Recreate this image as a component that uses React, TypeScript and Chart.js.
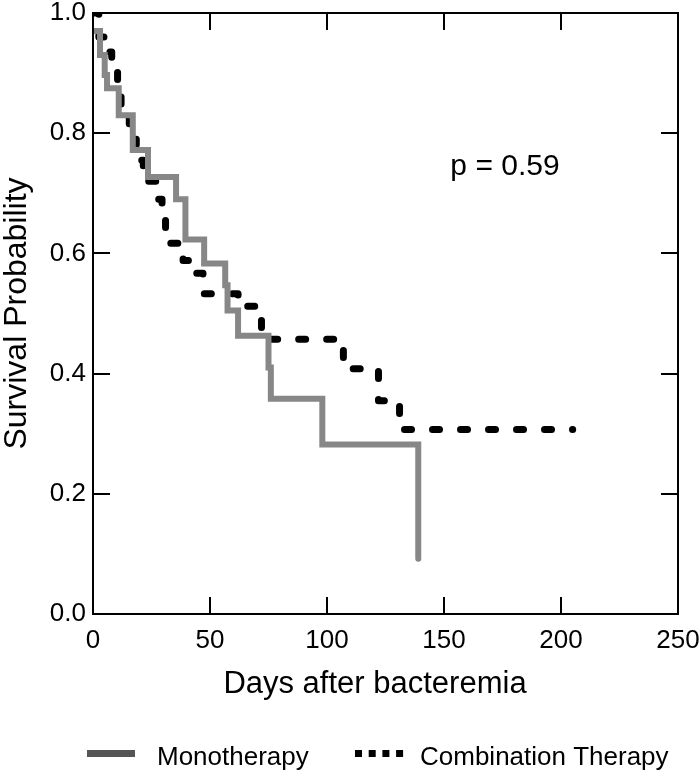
import React, { useEffect, useRef } from 'react';
import { Chart, registerables } from 'chart.js';

Chart.register(...registerables);

// Monotherapy Kaplan-Meier steps (day, survival probability)
const monoDays = [0, 3, 5, 6, 11, 17, 23.5, 35.5, 39.5, 47.5, 56.5, 57.5, 62, 75, 76, 98, 139];
const monoSurv = [0.97, 0.93, 0.897, 0.875, 0.83, 0.772, 0.727, 0.69, 0.623, 0.583, 0.547, 0.505, 0.463, 0.41, 0.358, 0.282, 0.092];

// Combination therapy Kaplan-Meier steps
const comboDays = [0, 2.5, 5.5, 8, 10.5, 12, 15.5, 18.5, 21.5, 27, 29.5, 31, 38.5, 42, 47, 62, 72, 107, 122, 131, 205];
const comboSurv = [1.0, 0.96, 0.935, 0.905, 0.87, 0.827, 0.79, 0.755, 0.72, 0.69, 0.655, 0.617, 0.588, 0.567, 0.533, 0.512, 0.457, 0.408, 0.355, 0.307, 0.307];

const xTicks = [0, 50, 100, 150, 200, 250];
const yTicks = [0, 0.2, 0.4, 0.6, 0.8, 1.0];

const seriesLabels = ['Monotherapy', 'Combination Therapy'];
const xTitle = 'Days after bacteremia';
const yTitle = 'Survival Probability';
const pText = 'p = 0.59';

const SANS = "'Liberation Sans', Arial, Helvetica, sans-serif";

const decorPlugin = {
  id: 'decor',
  afterDraw(chart: any) {
    const { ctx, chartArea } = chart;
    const { left, right, top, bottom } = chartArea;
    const xs = chart.scales.x;
    const ys = chart.scales.y;
    ctx.save();
    // frame
    ctx.strokeStyle = '#000';
    ctx.lineWidth = 2;
    ctx.strokeRect(left, top, right - left, bottom - top);
    // inward ticks
    const tl = 17;
    ctx.beginPath();
    xTicks.forEach((v) => {
      if (v === xTicks[0] || v === xTicks[xTicks.length - 1]) return;
      const px = Math.round(xs.getPixelForValue(v));
      ctx.moveTo(px, bottom);
      ctx.lineTo(px, bottom - tl);
      ctx.moveTo(px, top);
      ctx.lineTo(px, top + tl);
    });
    yTicks.forEach((v) => {
      if (v === yTicks[0] || v === yTicks[yTicks.length - 1]) return;
      const py = Math.round(ys.getPixelForValue(v));
      ctx.moveTo(left, py);
      ctx.lineTo(left + tl, py);
      ctx.moveTo(right, py);
      ctx.lineTo(right - tl, py);
    });
    ctx.stroke();

    // p-value
    ctx.fillStyle = '#000';
    ctx.font = `30px ${SANS}`;
    ctx.textAlign = 'center';
    ctx.textBaseline = 'alphabetic';
    ctx.fillText(pText, 505, 175);

    // x title
    ctx.font = `31px ${SANS}`;
    ctx.textAlign = 'center';
    ctx.fillText(xTitle, 375, 693);

    // y title
    ctx.save();
    ctx.translate(26, (top + bottom) / 2);
    ctx.rotate(-Math.PI / 2);
    ctx.font = `32px ${SANS}`;
    ctx.textAlign = 'center';
    ctx.fillText(yTitle, 0, 0);
    ctx.restore();

    // legend
    ctx.fillStyle = '#555555';
    ctx.fillRect(87, 750, 48, 7);
    ctx.fillStyle = '#000';
    for (let i = 0; i < 4; i++) {
      ctx.fillRect(355 + i * 13.7, 750, 7, 7);
    }
    ctx.font = `26px ${SANS}`;
    ctx.textAlign = 'left';
    ctx.fillText(seriesLabels[0], 157, 765);
    ctx.fillText(seriesLabels[1], 420, 765);
    ctx.restore();
  },
};

const zeroPad = (s: any) => {
  s.paddingTop = 0;
  s.paddingBottom = 0;
  s.paddingLeft = 0;
  s.paddingRight = 0;
};

export default function App() {
  const ref = useRef<HTMLCanvasElement>(null);
  useEffect(() => {
    if (!ref.current) return;
    const chart = new Chart(ref.current, {
      type: 'line',
      data: {
        datasets: [
          {
            label: seriesLabels[0],
            data: monoDays.map((d, i) => ({ x: d, y: monoSurv[i] })),
            borderColor: '#878787',
            borderWidth: 6,
            stepped: 'before',
            pointRadius: 0,
            fill: false,
            borderCapStyle: 'round',
            borderJoinStyle: 'miter',
          },
          {
            label: seriesLabels[1],
            data: comboDays.map((d, i) => ({ x: d, y: comboSurv[i] })),
            borderColor: '#000000',
            borderWidth: 7,
            borderDash: [7, 21],
            stepped: 'before',
            pointRadius: 0,
            fill: false,
            borderCapStyle: 'round',
            borderJoinStyle: 'round',
          },
        ],
      },
      options: {
        responsive: false,
        animation: false,
        maintainAspectRatio: false,
        layout: { padding: { left: 0, right: 22, top: 13, bottom: 0 } },
        plugins: {
          legend: { display: false },
          tooltip: { enabled: false },
        },
        scales: {
          x: {
            type: 'linear',
            min: 0,
            max: 250,
            afterFit: (s: any) => { s.height = 160; zeroPad(s); },
            afterBuildTicks: (s: any) => { s.ticks = xTicks.map((v) => ({ value: v })); },
            grid: { display: false, drawTicks: false },
            border: { display: false },
            ticks: {
              padding: 11,
              color: '#000',
              font: { family: SANS, size: 26 },
              callback: (v: any) => String(v),
            },
          },
          y: {
            type: 'linear',
            min: 0,
            max: 1,
            afterFit: (s: any) => { s.width = 93; zeroPad(s); },
            afterBuildTicks: (s: any) => { s.ticks = yTicks.map((v) => ({ value: v })); },
            grid: { display: false, drawTicks: false },
            border: { display: false },
            ticks: {
              padding: 7,
              color: '#000',
              font: { family: SANS, size: 26 },
              callback: (v: any) => Number(v).toFixed(1),
            },
          },
        },
      },
      plugins: [decorPlugin],
    } as any);
    return () => chart.destroy();
  }, []);
  return (
    <div style={{ position: 'fixed', left: 0, top: 0, width: 700, height: 774, background: '#fff' }}>
      <canvas ref={ref} width={700} height={774} />
    </div>
  );
}
